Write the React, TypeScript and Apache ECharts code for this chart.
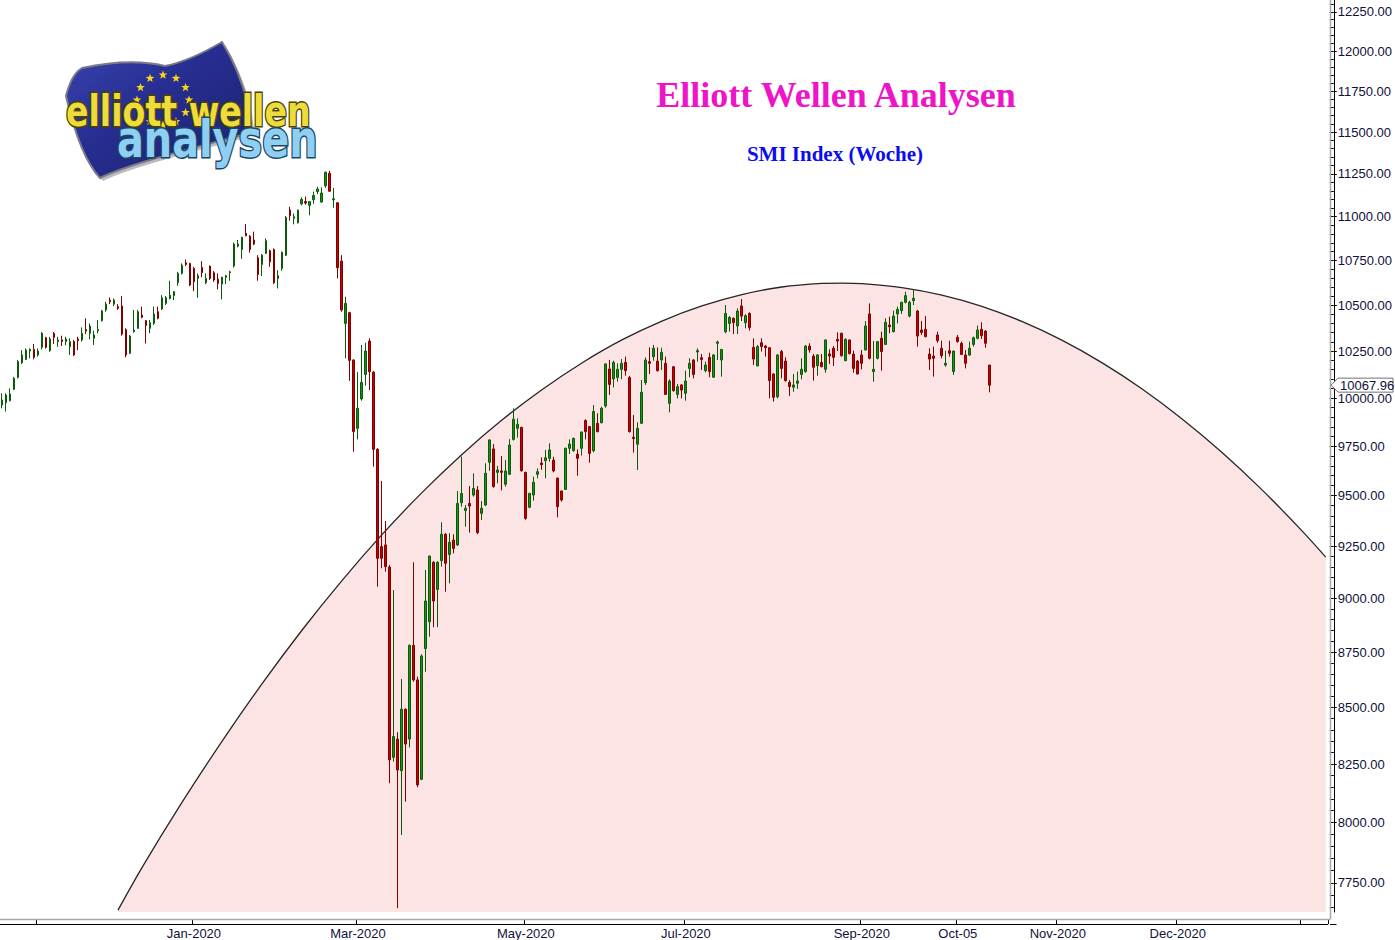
import React, { useEffect, useRef } from 'react';
import * as echarts from 'echarts';

// ---------- categories (SIX trading days, then calendar days for the projection area) ----------
const HOLIDAYS = ['2019-12-24', '2019-12-25', '2019-12-26', '2019-12-31', '2020-01-01', '2020-01-02',
  '2020-04-10', '2020-04-13', '2020-05-01', '2020-05-21', '2020-06-01'];
const FIRST_DAY = '2019-10-21';
const LAST_TRADING_DAY = '2020-10-15';
const LAST_AXIS_DAY = '2021-01-07';

const TICK_DATES = ['2019-11-01', '2020-01-03', '2020-03-02', '2020-05-04', '2020-07-01', '2020-09-01',
  '2020-10-05', '2020-11-01', '2020-12-01', '2021-01-01'];
const LABEL_DATES = ['2020-01-03', '2020-03-02', '2020-05-04', '2020-07-01', '2020-09-01', '2020-10-05', '2020-11-01', '2020-12-01'];
const LABEL_TEXTS = ['Jan-2020', 'Mar-2020', 'May-2020', 'Jul-2020', 'Sep-2020', 'Oct-05', 'Nov-2020', 'Dec-2020'];

// ---------- SMI daily candles [open, high, low, close] ----------
const ohlcQ4_2019: number[][] = [
  [9963, 10025, 9946, 9989], [9975, 10025, 9929, 10016], [9986, 10051, 9982, 10021], [10046, 10112, 10042, 10104],
  [10109, 10202, 10104, 10193], [10187, 10255, 10180, 10229], [10205, 10264, 10202, 10255], [10250, 10264, 10211, 10259],
  [10259, 10288, 10205, 10216], [10229, 10264, 10220, 10250], [10270, 10353, 10259, 10346], [10322, 10327, 10263, 10270],
  [10252, 10327, 10246, 10315], [10346, 10353, 10288, 10324], [10301, 10327, 10273, 10310], [10310, 10333, 10277, 10301],
  [10301, 10327, 10281, 10315], [10273, 10319, 10229, 10301], [10301, 10310, 10223, 10229], [10315, 10327, 10255, 10306],
  [10310, 10378, 10301, 10346], [10367, 10428, 10342, 10358], [10346, 10400, 10313, 10386], [10319, 10360, 10283, 10337],
  [10360, 10419, 10346, 10367], [10415, 10474, 10410, 10468], [10474, 10519, 10464, 10506], [10528, 10543, 10506, 10519],
  [10506, 10537, 10495, 10528], [10492, 10506, 10474, 10483], [10495, 10551, 10333, 10342], [10367, 10373, 10216, 10229],
  [10238, 10337, 10234, 10331], [10355, 10474, 10349, 10364], [10373, 10474, 10371, 10464], [10446, 10492, 10428, 10433],
  [10415, 10419, 10291, 10388], [10373, 10419, 10346, 10404], [10400, 10492, 10391, 10451], [10464, 10492, 10422, 10428],
  [10479, 10556, 10474, 10541], [10510, 10551, 10501, 10541], [10537, 10636, 10532, 10556], [10553, 10578, 10528, 10575],
  [10625, 10686, 10608, 10677], [10677, 10733, 10671, 10723], [10737, 10755, 10718, 10727], [10733, 10737, 10606, 10612],
];
const ohlcQ1_2020: number[][] = [
  [10705, 10714, 10578, 10630], [10649, 10677, 10541, 10664], [10710, 10746, 10655, 10681], [10625, 10677, 10617, 10649],
  [10718, 10721, 10640, 10649], [10681, 10690, 10630, 10640], [10645, 10677, 10588, 10621], [10617, 10659, 10532, 10655],
  [10655, 10668, 10617, 10664], [10681, 10692, 10636, 10686], [10718, 10851, 10710, 10843], [10831, 10866, 10824, 10843],
  [10812, 10885, 10759, 10881], [10904, 10957, 10888, 10890], [10888, 10894, 10794, 10812], [10866, 10914, 10837, 10843],
  [10765, 10780, 10636, 10671], [10727, 10786, 10662, 10780], [10790, 10876, 10786, 10862], [10805, 10812, 10714, 10742],
  [10812, 10818, 10617, 10625], [10649, 10695, 10593, 10664], [10705, 10800, 10692, 10796], [10780, 11004, 10775, 10995],
  [11038, 11057, 10977, 11006], [10991, 11019, 10956, 11000], [10965, 11042, 10961, 11038], [11075, 11113, 11066, 11100],
  [11088, 11117, 11070, 11079], [11066, 11090, 11008, 11088], [11098, 11146, 11075, 11123], [11146, 11175, 11132, 11161],
  [11085, 11171, 11081, 11138], [11180, 11264, 11168, 11260], [11254, 11268, 11146, 11148], [11098, 11168, 11052, 11104],
  [11081, 11085, 10649, 10709], [10746, 10780, 10464, 10474], [10400, 10547, 10211, 10510], [10459, 10464, 10091, 10200],
  [10202, 10205, 9722, 9825], [9842, 10137, 9785, 9946], [9995, 10283, 9986, 10083], [10125, 10295, 10065, 10250],
  [10304, 10319, 10042, 10139], [10137, 10143, 9646, 9734], [9734, 9740, 9056, 9192], [9249, 9573, 9144, 9192],
  [9257, 9374, 9128, 9152], [9150, 9160, 8167, 8268], [8279, 9040, 8260, 8370], [8359, 8389, 7648, 8224],
  [8221, 8627, 7948, 8491], [8491, 8495, 8088, 8337], [8359, 8785, 8323, 8781], [8781, 9173, 8615, 8623],
  [8623, 8638, 8150, 8160], [8184, 8740, 8180, 8732], [8766, 9136, 8660, 8988], [8891, 9205, 8821, 9203],
  [9173, 9178, 8865, 8988], [9043, 9178, 8865, 9173], [9181, 9368, 9152, 9309],
];
const ohlcQ2_2020: number[][] = [
  [9309, 9315, 9032, 9168], [9211, 9314, 9072, 9270], [9281, 9309, 9216, 9240], [9257, 9523, 9252, 9461],
  [9465, 9697, 9445, 9511], [9426, 9453, 9346, 9437], [9461, 9548, 9317, 9448], [9503, 9612, 9495, 9536],
  [9528, 9548, 9309, 9317], [9412, 9473, 9379, 9437], [9453, 9663, 9448, 9612], [9668, 9786, 9625, 9782],
  [9736, 9761, 9540, 9545], [9617, 9650, 9562, 9629], [9624, 9700, 9526, 9617], [9557, 9680, 9545, 9624],
  [9607, 9786, 9604, 9756], [9785, 9946, 9779, 9889], [9842, 9894, 9794, 9863], [9847, 9850, 9620, 9625],
  [9617, 9620, 9380, 9387], [9442, 9514, 9437, 9511], [9503, 9595, 9475, 9567], [9607, 9637, 9587, 9620],
  [9664, 9693, 9630, 9656], [9676, 9731, 9587, 9691], [9688, 9765, 9671, 9731], [9679, 9696, 9617, 9624],
  [9588, 9590, 9392, 9445], [9523, 9525, 9470, 9478], [9531, 9743, 9528, 9739], [9739, 9785, 9710, 9761],
  [9727, 9795, 9722, 9790], [9709, 9734, 9600, 9688], [9739, 9825, 9702, 9823], [9882, 9889, 9785, 9825],
  [9851, 9854, 9666, 9713], [9727, 9963, 9719, 9929], [9868, 9920, 9821, 9825], [9871, 9955, 9868, 9946],
  [9958, 10184, 9949, 10181], [10154, 10202, 10016, 10072], [10101, 10198, 10056, 10189], [10109, 10184, 10087, 10152],
  [10152, 10207, 10099, 10184], [10189, 10220, 10118, 10145], [10108, 10117, 9820, 9825], [9796, 9911, 9717, 9789],
  [9760, 9873, 9629, 9842], [9868, 10095, 9865, 10030], [10081, 10216, 10069, 10202], [10193, 10270, 10127, 10184],
  [10220, 10283, 10198, 10265], [10196, 10270, 10140, 10145], [10202, 10268, 10148, 10243], [10184, 10220, 10016, 10019],
  [9972, 10099, 9925, 10090], [10166, 10170, 10033, 10039], [10019, 10074, 9998, 10060], [10069, 10074, 9998, 10042],
];
const ohlcQ3_2020: number[][] = [
  [10025, 10145, 9986, 10090], [10157, 10211, 10110, 10184], [10202, 10207, 10104, 10125], [10245, 10265, 10193, 10252],
  [10214, 10234, 10148, 10205], [10145, 10193, 10136, 10175], [10216, 10241, 10110, 10140], [10110, 10234, 10108, 10229],
  [10292, 10306, 10202, 10299], [10202, 10261, 10113, 10259], [10355, 10501, 10346, 10455], [10400, 10440, 10355, 10433],
  [10428, 10433, 10342, 10404], [10386, 10483, 10342, 10468], [10496, 10534, 10413, 10440], [10404, 10451, 10373, 10442],
  [10455, 10461, 10361, 10377], [10270, 10319, 10175, 10207], [10170, 10283, 10170, 10274], [10295, 10319, 10247, 10274],
  [10277, 10283, 10220, 10268], [10268, 10270, 9998, 10092], [10127, 10131, 9981, 10004], [10007, 10234, 9998, 10229],
  [10247, 10256, 10104, 10157], [10196, 10216, 10086, 10092], [10083, 10095, 10011, 10060], [10057, 10127, 10033, 10069],
  [10078, 10140, 10048, 10090], [10125, 10211, 10099, 10152], [10140, 10283, 10134, 10277], [10277, 10292, 10241, 10256],
  [10223, 10234, 10092, 10163], [10171, 10234, 10118, 10229], [10189, 10234, 10163, 10166], [10152, 10312, 10134, 10310],
  [10234, 10259, 10181, 10223], [10265, 10277, 10170, 10216], [10313, 10351, 10250, 10304], [10346, 10350, 10220, 10225],
  [10198, 10319, 10196, 10313], [10310, 10312, 10232, 10236], [10234, 10252, 10134, 10157], [10196, 10202, 10125, 10127],
  [10229, 10256, 10152, 10184], [10256, 10413, 10252, 10386], [10452, 10510, 10205, 10211], [10140, 10304, 10086, 10152],
  [10211, 10304, 10205, 10301], [10319, 10355, 10145, 10247], [10286, 10428, 10283, 10406], [10391, 10437, 10346, 10382],
  [10355, 10470, 10351, 10440], [10452, 10492, 10400, 10477], [10470, 10519, 10452, 10516], [10516, 10575, 10510, 10553],
  [10440, 10525, 10433, 10516], [10525, 10588, 10501, 10538], [10468, 10474, 10274, 10331], [10364, 10413, 10337, 10351],
  [10368, 10440, 10324, 10328], [10234, 10265, 10148, 10207], [10223, 10274, 10113, 10211], [10337, 10355, 10295, 10306],
  [10265, 10306, 10211, 10225], [10175, 10252, 10166, 10184],
];
const ohlcQ4_2020: number[][] = [
  [10252, 10306, 10220, 10238], [10140, 10252, 10122, 10250], [10324, 10337, 10295, 10301], [10292, 10301, 10229, 10232],
  [10229, 10256, 10157, 10184], [10229, 10301, 10223, 10265], [10286, 10328, 10274, 10322], [10319, 10388, 10313, 10364],
  [10368, 10406, 10315, 10333], [10358, 10364, 10268, 10292], [10175, 10175, 10030, 10067.96],
];
const LAST_CLOSE = 10067.96;

// ---------- hand-drawn arc (category index, price) ----------
const arcIndex = [29, 35, 45, 55, 65, 75, 85, 95, 105, 115, 125, 135, 145, 155, 165, 175, 185, 195, 205, 210,
  215, 225, 235, 245, 255, 265, 275, 285, 295, 305, 315, 325, 331];
const arcValue = [7640, 7813, 8085, 8349, 8605, 8851, 9085, 9307, 9515, 9708, 9885, 10044, 10186, 10310, 10413, 10496,
  10559, 10601, 10621, 10623, 10620, 10598, 10556, 10494, 10411, 10309, 10188, 10049, 9892, 9719, 9530, 9327, 9198];

// ---------- price axis ----------
const Y_MIN = 7632.7;
const Y_MAX = 12327;
const majorTicks = [7750, 8000, 8250, 8500, 8750, 9000, 9250, 9500, 9750, 10000, 10250, 10500, 10750, 11000, 11250, 11500, 11750, 12000, 12250];
const MINOR_STEP = 50;

const FONT_AXIS = '"Liberation Sans", Arial, sans-serif';
const FONT_TITLE = '"Liberation Serif", "Times New Roman", serif';

function buildCategories(): string[] {
  const out: string[] = [];
  const lastTrade = Date.parse(LAST_TRADING_DAY + 'T00:00:00Z');
  const end = Date.parse(LAST_AXIS_DAY + 'T00:00:00Z');
  for (let t = Date.parse(FIRST_DAY + 'T00:00:00Z'); t <= end; t += 86400000) {
    const d = new Date(t);
    const s = d.toISOString().slice(0, 10);
    if (t > lastTrade) out.push(s);
    else {
      const wd = d.getUTCDay();
      if (wd !== 0 && wd !== 6 && HOLIDAYS.indexOf(s) < 0) out.push(s);
    }
  }
  return out;
}

function starPoints(cx: number, cy: number, R: number, r: number) {
  const pts: number[][] = [];
  for (let k = 0; k < 10; k++) {
    const a = -Math.PI / 2 + (k * Math.PI) / 5;
    const rad = k % 2 === 0 ? R : r;
    pts.push([cx + rad * Math.cos(a), cy + rad * Math.sin(a)]);
  }
  return pts;
}

const FLAG_PATH =
  'M66 96 C70 80 75 72 82 68 C110 62 140 60 165 66 C185 62 205 52 222 42 C232 58 242 80 248 105 L252 132 C225 140 190 148 150 160 C130 166 112 172 100 178 C88 165 76 140 66 96 Z';
let flagRegistered = false;

export default function App() {
  const ref = useRef<HTMLDivElement>(null);

  useEffect(() => {
    if (!ref.current) return;
    if (!flagRegistered) {
      echarts.graphic.registerShape('ewaFlag', echarts.graphic.extendPath(FLAG_PATH, {}) as any);
      flagRegistered = true;
    }
    const chart = echarts.init(ref.current, undefined, { renderer: 'svg' });

    const categories = buildCategories();
    const ohlc = [...ohlcQ4_2019, ...ohlcQ1_2020, ...ohlcQ2_2020, ...ohlcQ3_2020, ...ohlcQ4_2020];
    const candleData = ohlc.map((r) => [Math.log(r[0]), Math.log(r[3]), Math.log(r[2]), Math.log(r[1])]);
    const arcData = arcIndex.map((i, k) => [i, Math.log(arcValue[k])]);

    const tickIdx = new Set(TICK_DATES.map((d) => categories.indexOf(d)));
    const labelIdx = new Set(LABEL_DATES.map((d) => categories.indexOf(d)));
    const labelMap: Record<string, string> = {};
    LABEL_DATES.forEach((d, k) => (labelMap[d] = LABEL_TEXTS[k]));

    const minorTicks: number[] = [];
    for (let v = Math.ceil(Y_MIN / MINOR_STEP) * MINOR_STEP; v <= Y_MAX; v += MINOR_STEP) minorTicks.push(Math.log(v));

    const stars: any[] = [];
    for (let k = 0; k < 12; k++) {
      const a = (k * Math.PI) / 6;
      stars.push({
        type: 'polygon',
        shape: { points: starPoints(163 + 26 * Math.cos(a), 100 + 25 * Math.sin(a), 4.6, 1.9) },
        style: { fill: '#f5d41c' },
        z: 12,
      });
    }

    const option: any = {
      animation: false,
      backgroundColor: '#ffffff',
      grid: { left: 0, top: 0, width: 1330, height: 912 },
      xAxis: {
        type: 'category',
        data: categories,
        boundaryGap: true,
        offset: 12,
        axisLine: { show: true, lineStyle: { color: '#000000', width: 1 } },
        axisTick: { show: true, inside: true, length: 5, interval: (i: number) => tickIdx.has(i), lineStyle: { color: '#000000' } },
        axisLabel: {
          interval: (i: number) => labelIdx.has(i),
          formatter: (v: string) => labelMap[v] || '',
          color: '#10103a',
          fontSize: 13,
          fontFamily: FONT_AXIS,
          margin: 3,
        },
        splitLine: { show: false },
      },
      yAxis: [
        {
          type: 'value',
          position: 'right',
          offset: 6,
          min: Math.log(Y_MIN),
          max: Math.log(Y_MAX),
          axisLine: { show: true, lineStyle: { color: '#000000', width: 1 } },
          axisTick: { show: true, inside: false, length: 3, customValues: majorTicks.map((v) => Math.log(v)), lineStyle: { color: '#000000' } },
          axisLabel: {
            customValues: majorTicks.map((v) => Math.log(v)),
            formatter: (v: number) => Math.exp(v).toFixed(2),
            color: '#10103a',
            fontSize: 13,
            fontFamily: FONT_AXIS,
            margin: 4,
          },
          splitLine: { show: false },
        },
        {
          type: 'value',
          position: 'right',
          offset: 6,
          min: Math.log(Y_MIN),
          max: Math.log(Y_MAX),
          axisLine: { show: false },
          axisTick: { show: true, inside: true, length: 4, customValues: minorTicks, lineStyle: { color: '#000000' } },
          axisLabel: { show: false },
          splitLine: { show: false },
        },
      ],
      series: [
        {
          type: 'line',
          data: arcData,
          smooth: 0.3,
          symbol: 'none',
          z: 1,
          lineStyle: { color: '#262626', width: 1.3 },
          areaStyle: { color: '#fde4e4', opacity: 1, origin: 'start' },
          silent: true,
        },
        {
          type: 'candlestick',
          data: candleData,
          barWidth: 2.4,
          z: 3,
          itemStyle: {
            color: '#149414',
            color0: '#c80000',
            borderColor: '#0b5a0b',
            borderColor0: '#7e0000',
            borderWidth: 1,
          },
        },
        {
          type: 'custom',
          clip: false,
          silent: true,
          z: 10,
          data: [[ohlc.length - 1, Math.log(LAST_CLOSE)]],
          renderItem: (_params: any, api: any) => {
            const pt = api.coord([api.value(0), api.value(1)]);
            const y = pt[1];
            return {
              type: 'group',
              children: [
                {
                  type: 'polygon',
                  shape: { points: [[1331, y], [1338, y - 7], [1393, y - 7], [1393, y + 7], [1338, y + 7]] },
                  style: { fill: '#ffffff', stroke: '#707070', lineWidth: 1 },
                },
                {
                  type: 'text',
                  style: {
                    text: LAST_CLOSE.toFixed(2),
                    x: 1340,
                    y: y + 0.5,
                    verticalAlign: 'middle',
                    align: 'left',
                    fill: '#10103a',
                    font: '13px ' + FONT_AXIS,
                  },
                },
              ],
            };
          },
        },
      ],
      graphic: [
        { type: 'line', shape: { x1: 0, y1: 919.5, x2: 1330, y2: 919.5 }, style: { stroke: '#a9a9a9', lineWidth: 1.5 }, z: 5 },
        { type: 'line', shape: { x1: 1330.5, y1: 0, x2: 1330.5, y2: 919.5 }, style: { stroke: '#a9a9a9', lineWidth: 1.5 }, z: 5 },
        { type: 'line', shape: { x1: 1330, y1: 924.5, x2: 1336.5, y2: 924.5 }, style: { stroke: '#000000', lineWidth: 1 }, z: 5 },
        {
          type: 'text',
          x: 836,
          y: 95,
          style: { text: 'Elliott Wellen Analysen', align: 'center', verticalAlign: 'middle', fill: '#ee14c8', font: 'bold 36px ' + FONT_TITLE },
          z: 20,
        },
        {
          type: 'text',
          x: 835,
          y: 154,
          style: { text: 'SMI Index (Woche)', align: 'center', verticalAlign: 'middle', fill: '#0c0cf0', font: 'bold 21px ' + FONT_TITLE },
          z: 20,
        },
        // logo
        { type: 'ewaFlag', x: 3, y: 3, style: { fill: 'rgba(60,60,60,0.35)' }, z: 10 },
        {
          type: 'ewaFlag',
          x: 0,
          y: 0,
          style: {
            fill: {
              type: 'linear', x: 0, y: 0, x2: 1, y2: 1,
              colorStops: [
                { offset: 0, color: '#3a43b2' },
                { offset: 0.45, color: '#262d8f' },
                { offset: 1, color: '#1b206c' },
              ],
            },
            stroke: '#7a7a8a',
            lineWidth: 2,
          },
          z: 11,
        },
        ...stars,
        {
          type: 'text',
          x: 66,
          y: 111.5,
          scaleX: 0.79,
          style: {
            text: 'elliott wellen',
            x: 0, y: 0,
            align: 'left',
            verticalAlign: 'middle',
            font: 'bold 42px "DejaVu Sans", sans-serif',
            fill: '#eedc3c',
            stroke: '#4a4300',
            lineWidth: 3,
          },
          z: 13,
        },
        {
          type: 'text',
          x: 117,
          y: 140,
          scaleX: 0.78,
          style: {
            text: 'analysen',
            x: 0, y: 0,
            align: 'left',
            verticalAlign: 'middle',
            font: 'bold 51px "DejaVu Sans", sans-serif',
            fill: '#8fcff2',
            stroke: '#1b4766',
            lineWidth: 3,
          },
          z: 14,
        },
      ],
    };

    chart.setOption(option);
    return () => chart.dispose();
  }, []);

  return <div ref={ref} style={{ position: 'fixed', left: 0, top: 0, width: 1395, height: 940 }} />;
}
